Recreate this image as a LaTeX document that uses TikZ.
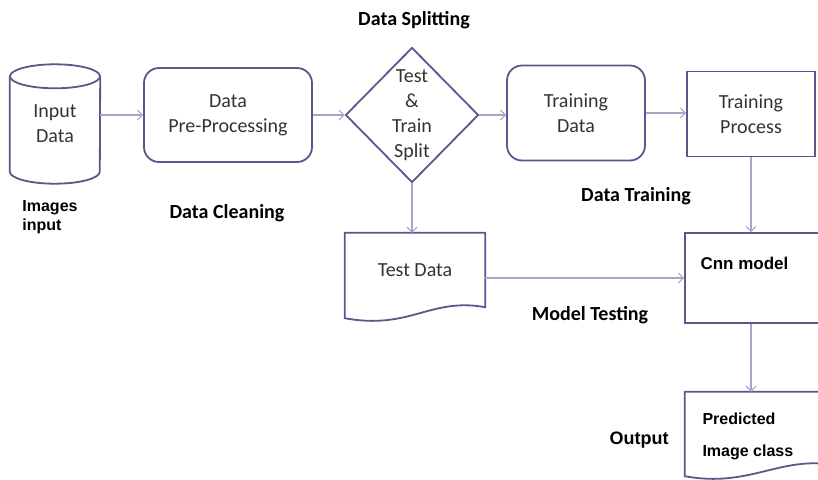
\documentclass[tikz,border=0pt]{standalone}
\usepackage{fontspec}
\setmainfont{Carlito}
\newfontfamily\arialFont{Liberation Sans}
\usepackage{tikz}
\usetikzlibrary{shapes.geometric, arrows.meta}
\definecolor{boxColor}{RGB}{88,88,140}
\definecolor{arrowColor}{RGB}{165,165,198}
\tikzstyle{diagram} = [x = 1pt, y = -1pt]
\tikzstyle{boxLine} = [draw=boxColor, line width=1.8pt]
\tikzstyle{boxText} = [font=\fontsize{20}{25}\selectfont, align=center, text=black!80]
\tikzstyle{plainNode} = [boxText, inner sep=0pt]
\tikzstyle{roundBox} = [boxText, boxLine, rounded corners=15pt]
\tikzstyle{squareBox} = [boxText, boxLine]
\tikzstyle{splitDiamond} = [shape=diamond, boxLine, minimum width=133pt, minimum height=135pt, inner sep=0pt]
\tikzstyle{flowArrow} = [color=arrowColor, line width=1.1pt, -{Straight Barb[length=5pt, width=10pt]}]
\tikzstyle{stageLabel} = [font=\bfseries\fontsize{20}{24}\selectfont]
\tikzstyle{noteLabel} = [font=\arialFont\bfseries\fontsize{16}{19}\selectfont]
\newcommand{\docOutline}[1]{\draw [boxLine] ([yshift=-11pt]#1.south west) -- (#1.north west) -- (#1.north east) -- (#1.south east) .. controls ([xshift=-55pt, yshift=10pt]#1.south east) and ([xshift=65pt, yshift=-23pt]#1.south west) .. ([yshift=-11pt]#1.south west) -- cycle;}
\newcommand{\cylinderOutline}[1]{
  \draw [boxLine] ([yshift=-12pt]#1.north) ellipse (45pt and 12pt);
  \draw [boxLine] ([yshift=-12pt]#1.north west) -- ([yshift=12pt]#1.south west) arc (180:360:45pt and 12pt) -- ([yshift=-12pt]#1.north east);
}

\begin{document}
\begin{tikzpicture}[diagram]
  \clip (0,0) rectangle (818,479);
  % first row
  \node [plainNode, minimum width=90pt, minimum height=119pt] (inp) at (55,124) {Input\\Data};
  \cylinderOutline{inp}
  \node [roundBox, minimum width=168pt, minimum height=94pt] (pre) at (228,115) {Data\\Pre-Processing};
  \node [splitDiamond] (split) at (412,115) {};
  \node [boxText] (splitText) at (split) {Test\\\&\\Train\\Split};
  \node [roundBox, minimum width=138pt, minimum height=95pt] (trd) at (576,113) {Training\\Data};
  \node [squareBox, minimum width=128pt, minimum height=85pt] (trp) at (751,114) {Training\\Process};

  % second row
  \node [plainNode, minimum width=140pt, minimum height=74pt] (tst) at (415,270) {Test Data};
  \docOutline{tst}
  \node [squareBox, minimum width=150pt, minimum height=90pt] (cnn) at (760,278) {};
  \node [noteLabel, anchor=west, font=\arialFont\bfseries\fontsize{17}{20}\selectfont] (cnnText) at (697,263) {Cnn model};

  % output
  \node [plainNode, minimum width=150pt, minimum height=73pt] (pred) at (760,428.5) {};
  \docOutline{pred}
  \node [noteLabel, anchor=west, align=left, font=\arialFont\bfseries\fontsize{16}{32}\selectfont] (predText) at (699,436) {Predicted\\Image class};

  % labels
  \node [stageLabel] (splitLbl) at (414,20) {Data Splitting};
  \node [stageLabel] (cleanLbl) at (227,213) {Data Cleaning};
  \node [stageLabel] (trainLbl) at (636,196) {Data Training};
  \node [stageLabel] (testLbl) at (590,315) {Model Testing};
  \node [noteLabel, align=left] (imgLbl) at (50,217) {Images\\input};
  \node [noteLabel, font=\arialFont\bfseries\fontsize{18}{20}\selectfont] (outLbl) at (639,440) {Output};

  % arrows
  \draw [flowArrow] (inp.east |- pre.west) -- (pre.west);
  \draw [flowArrow] (pre.east) -- (split.west);
  \draw [flowArrow] (split.east) -- (split.east -| trd.west);
  \draw [flowArrow] (trd.east) -- (trd.east -| trp.west);
  \draw [flowArrow] (trp.south) -- (trp.south |- cnn.north);
  \draw [flowArrow] (split.south) -- (split.south |- tst.north);
  \draw [flowArrow] (tst.east |- cnn.west) -- (cnn.west);
  \draw [flowArrow] (trp.south |- cnn.south) -- (trp.south |- pred.north);
\end{tikzpicture}
\end{document}
